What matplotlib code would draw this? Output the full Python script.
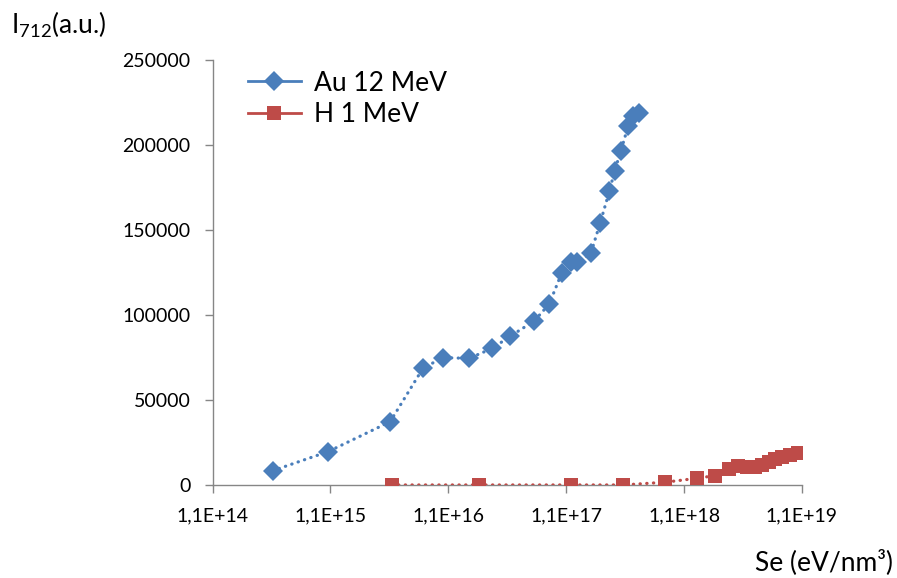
import matplotlib
matplotlib.use("Agg")
import matplotlib.pyplot as plt
from matplotlib.lines import Line2D
from matplotlib.ticker import FixedLocator, NullLocator

plt.rcParams['font.family'] = ['Lato', 'DejaVu Sans']
plt.rcParams['mathtext.fontset'] = 'custom'
plt.rcParams['mathtext.rm'] = 'Lato'

au_x = [3.56e14, 1.05e15, 3.53e15, 6.75e15, 1.0e16, 1.65e16, 2.6e16, 3.7e16,
        5.9e16, 7.9e16, 1.01e17, 1.2e17, 1.37e17, 1.78e17, 2.13e17, 2.56e17,
        2.83e17, 3.2e17, 3.69e17, 4.09e17, 4.54e17]
au_y = [8400, 19600, 37200, 69000, 74900, 74500, 80400, 87600,
        96500, 106500, 124900, 131400, 131000, 136300, 153900, 172900,
        184700, 196500, 211200, 217000, 218600]

h_x = [3.65e15, 2.0e16, 1.22e17, 3.35e17, 7.58e17, 1.41e18, 2.02e18, 2.65e18,
       3.15e18, 3.76e18, 4.38e18, 5.03e18, 5.77e18, 6.49e18, 7.43e18, 8.69e18, 1.02e19]
h_y = [0, 0, 0, 0, 1600, 3900, 5500, 9200,
       11200, 10400, 10800, 11800, 13500, 15100, 16300, 17600, 19000]

x_ticks = [1.1e14, 1.1e15, 1.1e16, 1.1e17, 1.1e18, 1.1e19]
x_labels = ['1,1E+14', '1,1E+15', '1,1E+16', '1,1E+17', '1,1E+18', '1,1E+19']
y_ticks = [0, 50000, 100000, 150000, 200000, 250000]

blue = '#4A7EBB'
red = '#BE4B48'
gray = '#868686'

fig = plt.figure(figsize=(8.97, 5.78), dpi=100)
ax = fig.add_axes([0.237, 0.161, 0.657, 0.735])

dot = (0, (0.1, 2.0))
ax.plot(au_x, au_y, color=blue, lw=2.3, linestyle=dot, dash_capstyle='round',
        marker='D', markersize=10, markeredgewidth=0, zorder=3)
ax.plot(h_x, h_y, color=red, lw=2.3, linestyle=dot, dash_capstyle='round',
        marker='s', markersize=10, markeredgewidth=0, zorder=3)

ax.set_xscale('log')
ax.set_xlim(1.1e14, 1.1e19)
ax.set_ylim(0, 250000)
ax.xaxis.set_major_locator(FixedLocator(x_ticks))
ax.xaxis.set_minor_locator(NullLocator())
ax.set_xticklabels(x_labels)
ax.set_yticks(y_ticks)
ax.set_yticklabels([str(v) for v in y_ticks])

for s in ['top', 'right']:
    ax.spines[s].set_visible(False)
for s in ['left', 'bottom']:
    ax.spines[s].set_color(gray)
    ax.spines[s].set_linewidth(1.0)
ax.tick_params(axis='both', colors=gray, labelcolor='#000000', labelsize=14,
               direction='out', length=6, width=1.0)
ax.tick_params(axis='x', pad=10)
ax.tick_params(axis='y', pad=10)

handles = [Line2D([], [], color=blue, lw=2, marker='D', markersize=10, markeredgewidth=0),
           Line2D([], [], color=red, lw=2, marker='s', markersize=10, markeredgewidth=0)]
leg = ax.legend(handles, ['Au 12 MeV', 'H 1 MeV'], loc='upper left',
                bbox_to_anchor=(0.042, 1.0), frameon=False, fontsize=19,
                handlelength=2.0, handletextpad=0.5, labelspacing=0.25,
                borderaxespad=0.0)

fig.text(0.012, 1 - 25 / 578, r'I$_{\mathregular{712}}$(a.u.)', fontsize=19,
         ha='left', va='center')
fig.text(0.996, 1 - 562 / 578, 'Se (eV/nm³)', fontsize=19, ha='right', va='center')

fig.savefig('out.png', dpi=100)
